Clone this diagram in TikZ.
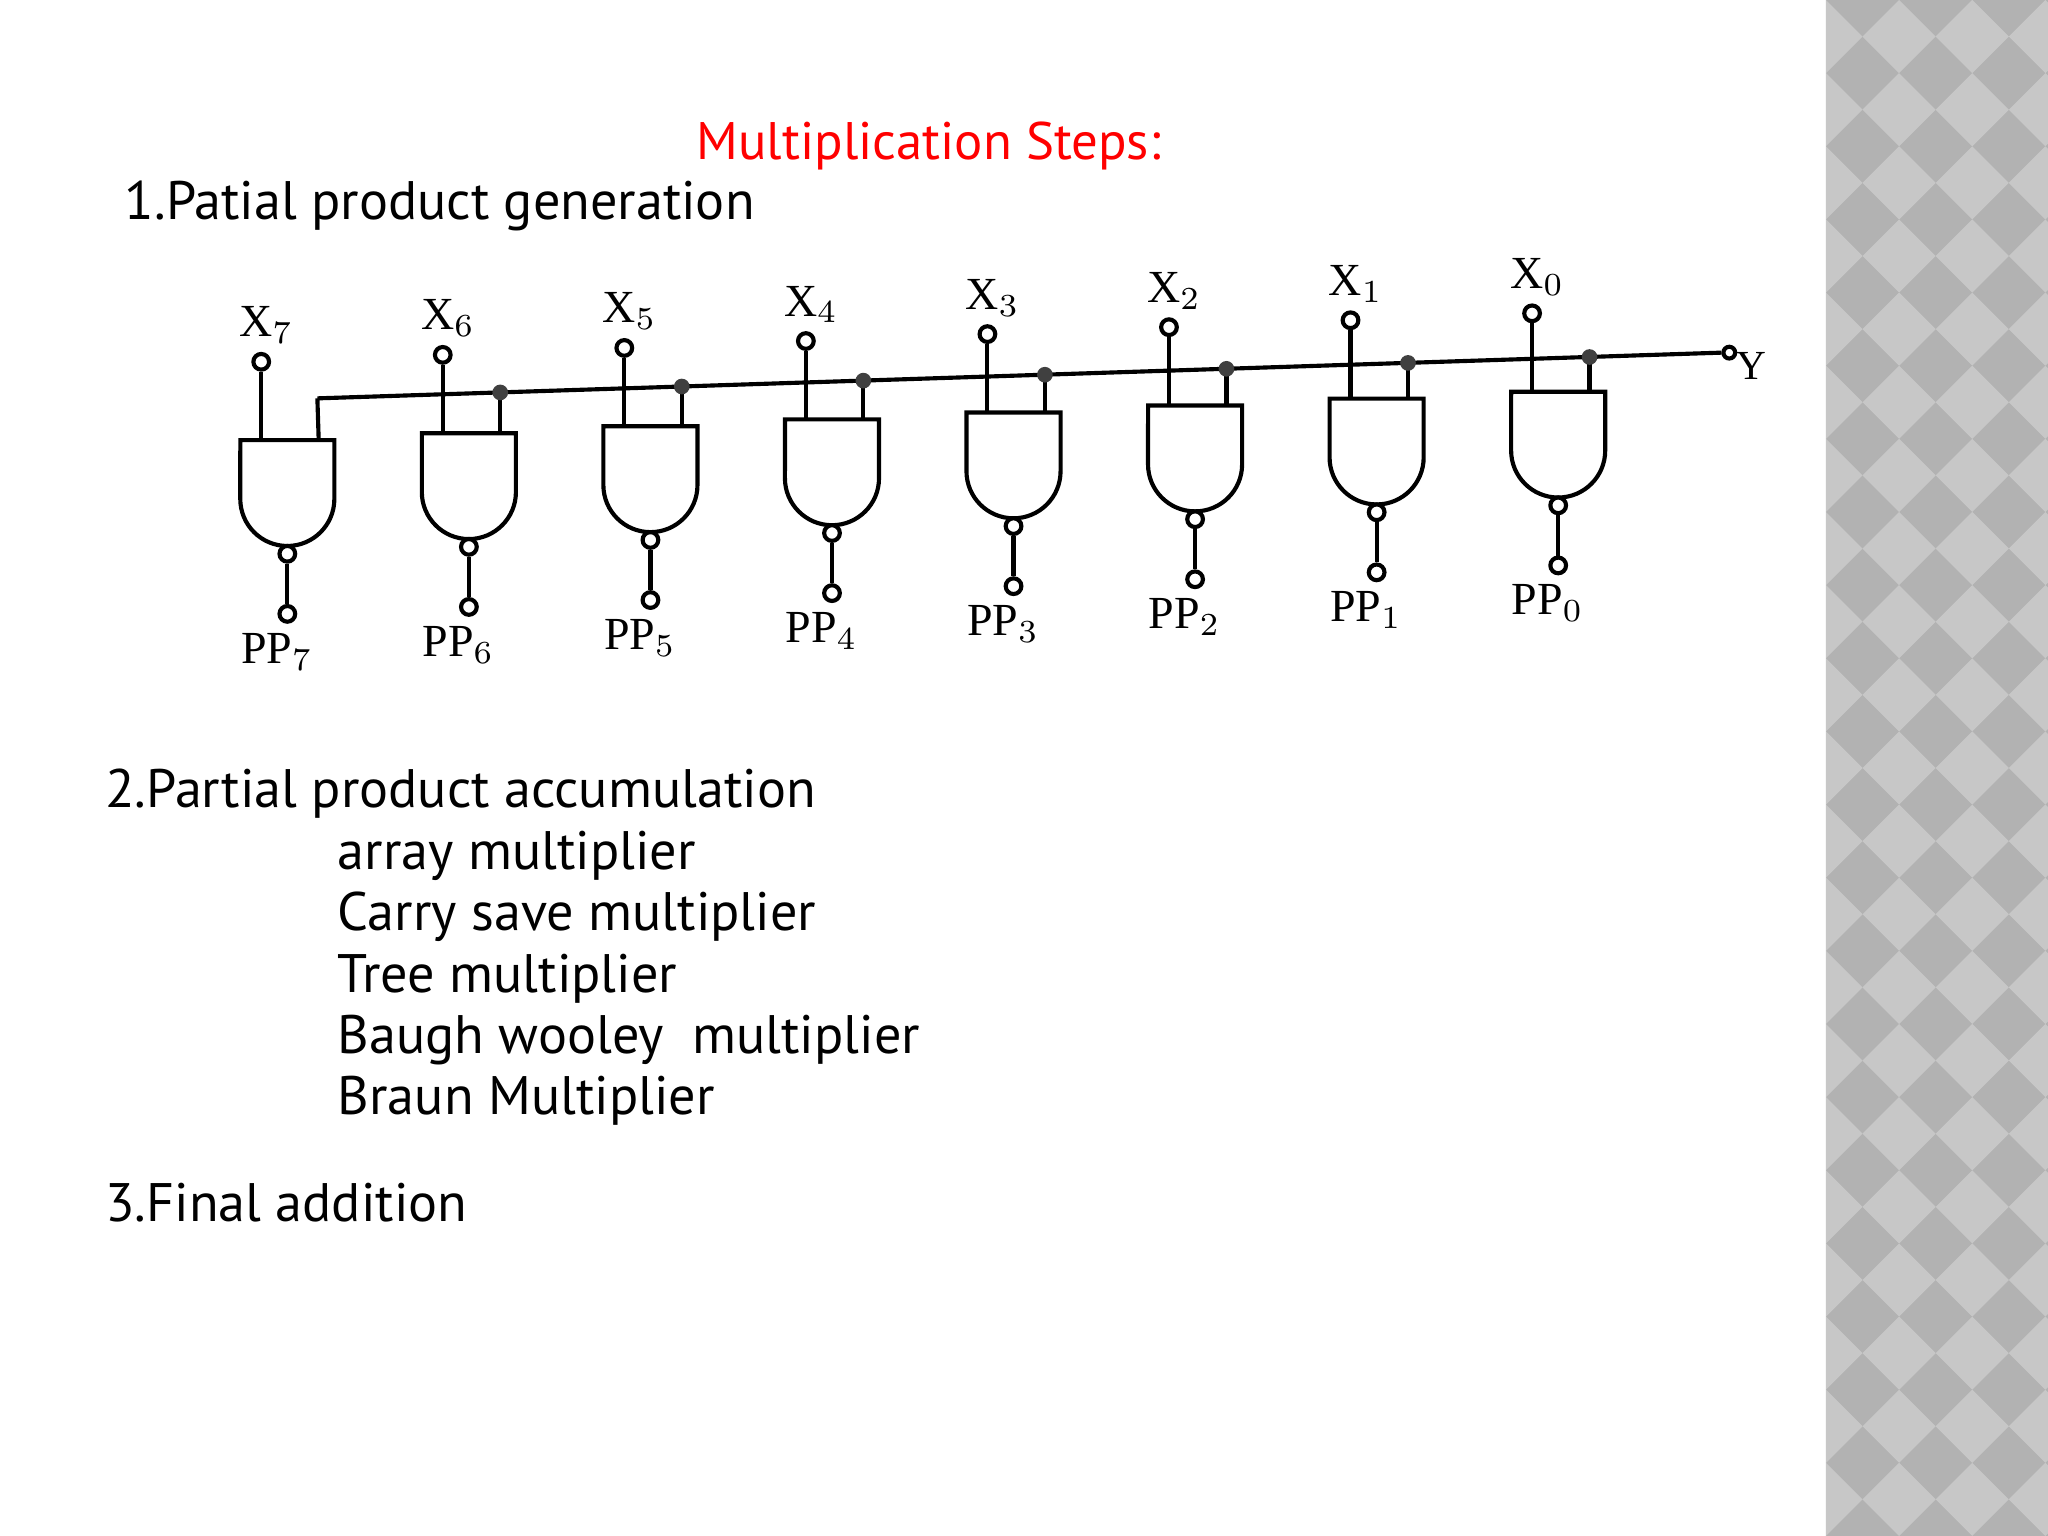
\documentclass[tikz,border=0pt]{standalone}
\usepackage{fontspec}
\setmainfont{PT Sans}
\newfontfamily\serifx{Liberation Serif}
\begin{document}
\begin{tikzpicture}[x=0.01cm,y=-0.01cm,
  txt/.style={anchor=west,inner sep=0pt,font=\fontsize{11.8}{14}\selectfont},
  lbl/.style={inner sep=0pt,font=\serifx\fontsize{10}{12}\selectfont},
  wire/.style={line width=0.9pt},
  pin/.style={circle,draw,line width=0.9pt,minimum size=0.12cm,inner sep=0pt,fill=white},
  dot/.style={circle,fill=black!75,minimum size=0.12cm,inner sep=0pt}]
\useasboundingbox (0,0) rectangle (1568,1176);
\fill[white] (0,0) rectangle (1568,1176);
% side strip
\fill[black!30] (1398,0) rectangle (1568,1176);
\begin{scope}
\clip (1398,0) rectangle (1568,1176);
\foreach \i in {0,...,4}{\foreach \j in {0,...,22}{
  \fill[black!22] ({1398+\i*56},{\j*56}) -- ++(28,28) -- ++(-28,28) -- ++(-28,-28) -- cycle;
}}
\end{scope}
\node[txt,text=red,anchor=center,font=\fontsize{11.5}{14}\selectfont] (title) at (711,112) {Multiplication Steps:};
\node[txt] (s1) at (95,158) {1.Patial product generation};
% bus
\coordinate (bs) at (243,305);
\coordinate (be) at (1318,270);
\draw[wire] (bs) -- (be);
\node[pin,minimum size=0.09cm] (y) at (1324,270) {};
\node[lbl,anchor=west] (ylab) at (1329,280) {\fontsize{9}{10}\selectfont Y};
\foreach \k/\n in {0/7,1/6,2/5,3/4,4/3,5/2,6/1,7/0}{
  \pgfmathsetmacro{\cx}{220+\k*139}
  \pgfmathsetmacro{\tp}{337-\k*5.3}
  \pgfmathsetmacro{\busy}{305-(\cx+24-243)*0.0325}
  \draw[wire] (\cx-36,\tp) -- (\cx+36,\tp) -- (\cx+36,\tp+45) arc[start angle=0,end angle=-180,radius=0.36cm] -- cycle;
  \node[pin] (b\n) at (\cx,\tp+87) {};
  \node[pin] (o\n) at (\cx,\tp+133) {};
  \draw[wire] (b\n) -- (o\n);
  \node[lbl] (pp\n) at (\cx-8,\tp+162) {PP$_{\n}$};
  \node[pin] (x\n) at (\cx-20,\tp-60) {};
  \node[lbl] (xl\n) at (\cx-16,\tp-88) {X$_{\n}$};
  \draw[wire] (x\n) -- (\cx-20,\tp);
  \ifnum\k=0
    \draw[wire] (\cx+24,\tp) -- (bs);
  \else
    \draw[wire] (\cx+24,\tp) -- (\cx+24,\busy);
    \node[dot] (d\n) at (\cx+24,\busy) {};
  \fi
}
\node[txt] (s2) at (80,608) {2.Partial product accumulation};
\node[txt] (a1) at (258,655) {array multiplier};
\node[txt] (a2) at (258,702) {Carry save multiplier};
\node[txt] (a3) at (258,749) {Tree multiplier};
\node[txt] (a4) at (258,796) {Baugh wooley\ \ multiplier};
\node[txt] (a5) at (258,843) {Braun Multiplier};
\node[txt] (s3) at (80,921) {3.Final addition};
\end{tikzpicture}
\end{document}
